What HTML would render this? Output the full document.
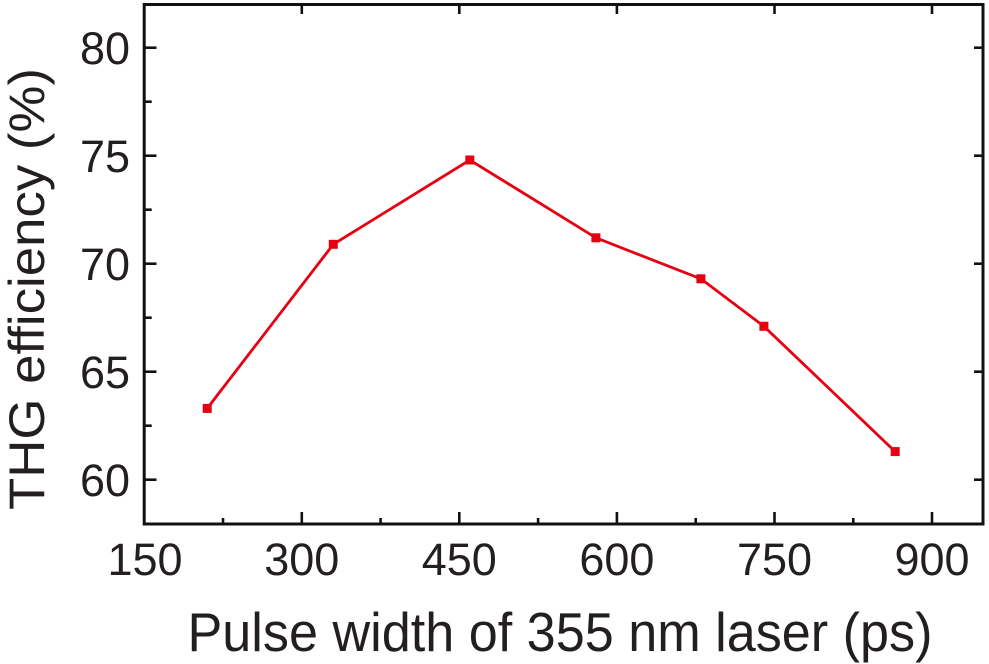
<!DOCTYPE html>
<html>
<head>
<meta charset="utf-8">
<style>
  html, body { margin: 0; padding: 0; background: #ffffff; }
  svg { display: block; }
  text { font-family: "Liberation Sans", Arial, Helvetica, sans-serif; fill: #231f20; }
</style>
</head>
<body>
<svg width="989" height="664" viewBox="0 0 989 664" xmlns="http://www.w3.org/2000/svg">
  <rect x="0" y="0" width="989" height="664" fill="#ffffff"/>

  <!-- ticks -->
  <g stroke="#111" stroke-width="2.6" fill="none">
    <!-- bottom major -->
    <line x1="301.8" y1="524" x2="301.8" y2="512"/>
    <line x1="459.3" y1="524" x2="459.3" y2="512"/>
    <line x1="616.9" y1="524" x2="616.9" y2="512"/>
    <line x1="774.5" y1="524" x2="774.5" y2="512"/>
    <line x1="932.0" y1="524" x2="932.0" y2="512"/>
    <!-- bottom minor -->
    <line x1="223.0" y1="524" x2="223.0" y2="518"/>
    <line x1="380.6" y1="524" x2="380.6" y2="518"/>
    <line x1="538.1" y1="524" x2="538.1" y2="518"/>
    <line x1="695.7" y1="524" x2="695.7" y2="518"/>
    <line x1="853.3" y1="524" x2="853.3" y2="518"/>
    <!-- top major -->
    <line x1="301.8" y1="4.5" x2="301.8" y2="14"/>
    <line x1="459.3" y1="4.5" x2="459.3" y2="14"/>
    <line x1="616.9" y1="4.5" x2="616.9" y2="14"/>
    <line x1="774.5" y1="4.5" x2="774.5" y2="14"/>
    <line x1="932.0" y1="4.5" x2="932.0" y2="14"/>
    <!-- left major -->
    <line x1="144.2" y1="47.7" x2="156.5" y2="47.7"/>
    <line x1="144.2" y1="155.7" x2="156.5" y2="155.7"/>
    <line x1="144.2" y1="263.7" x2="156.5" y2="263.7"/>
    <line x1="144.2" y1="371.7" x2="156.5" y2="371.7"/>
    <line x1="144.2" y1="479.7" x2="156.5" y2="479.7"/>
    <!-- left minor -->
    <line x1="144.2" y1="101.7" x2="151.7" y2="101.7"/>
    <line x1="144.2" y1="209.7" x2="151.7" y2="209.7"/>
    <line x1="144.2" y1="317.7" x2="151.7" y2="317.7"/>
    <line x1="144.2" y1="425.7" x2="151.7" y2="425.7"/>
    <!-- right major -->
    <line x1="983" y1="47.7" x2="974" y2="47.7"/>
    <line x1="983" y1="155.7" x2="974" y2="155.7"/>
    <line x1="983" y1="263.7" x2="974" y2="263.7"/>
    <line x1="983" y1="371.7" x2="974" y2="371.7"/>
    <line x1="983" y1="479.7" x2="974" y2="479.7"/>
  </g>

  <!-- frame -->
  <rect x="144.2" y="4.5" width="838.8" height="519.5" fill="none" stroke="#111" stroke-width="3"/>

  <!-- data -->
  <polyline fill="none" stroke="#e60012" stroke-width="2.8" stroke-linejoin="miter"
    points="207.2,408.4 333.3,244.3 469.8,160.0 595.9,237.8 700.9,278.8 763.9,326.3 895.2,451.6"/>
  <g fill="#e60012">
    <rect x="202.7" y="403.9" width="9" height="9"/>
    <rect x="328.8" y="239.8" width="9" height="9"/>
    <rect x="465.3" y="155.5" width="9" height="9"/>
    <rect x="591.4" y="233.3" width="9" height="9"/>
    <rect x="696.4" y="274.3" width="9" height="9"/>
    <rect x="759.4" y="321.8" width="9" height="9"/>
    <rect x="890.7" y="447.1" width="9" height="9"/>
  </g>

  <!-- x tick labels -->
  <g font-size="45" text-anchor="middle">
    <text x="145" y="575">150</text>
    <text x="301.8" y="575">300</text>
    <text x="459.3" y="575">450</text>
    <text x="616.9" y="575">600</text>
    <text x="774.5" y="575">750</text>
    <text x="932.0" y="575">900</text>
  </g>

  <!-- y tick labels -->
  <g font-size="45" text-anchor="end">
    <text x="130" y="64">80</text>
    <text x="130" y="172">75</text>
    <text x="130" y="280">70</text>
    <text x="130" y="388">65</text>
    <text x="130" y="496">60</text>
  </g>

  <!-- axis titles -->
  <text x="560" y="651" font-size="55" text-anchor="middle" textLength="745" lengthAdjust="spacingAndGlyphs">Pulse width of 355 nm laser (ps)</text>
  <text transform="translate(44,289) rotate(-90)" font-size="50" text-anchor="middle" textLength="442" lengthAdjust="spacingAndGlyphs">THG efficiency (%)</text>
</svg>
</body>
</html>
